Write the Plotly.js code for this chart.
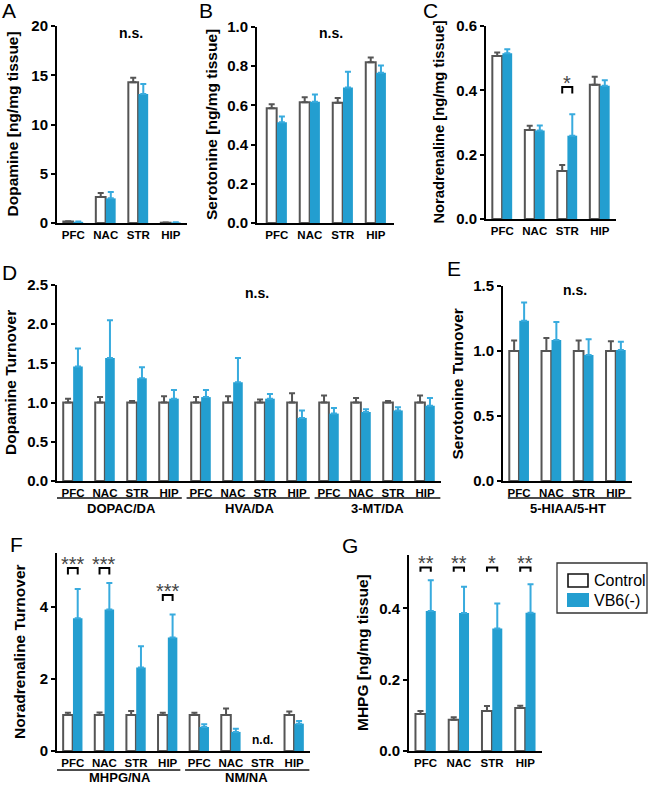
<!DOCTYPE html>
<html><head><meta charset="utf-8">
<script src="https://cdn.plot.ly/plotly-3.0.1.min.js"></script>
<style>html,body{margin:0;padding:0;background:#fff}#chart{width:652px;height:787px}</style>
</head><body><div id="chart"></div>
<script>
// ---------------- DATA ----------------
const regions = ['PFC','NAC','STR','HIP'];
// A: Dopamine [ng/mg tissue]
const daCtrl = [0.15, 2.65, 14.3, 0.03];
const daCtrlSem = [0.02, 0.40, 0.45, 0.01];
const daVb6 = [0.12, 2.50, 13.1, 0.06];
const daVb6Sem = [0.02, 0.65, 1.00, 0.01];
// B: Serotonine [ng/mg tissue]
const htCtrl = [0.586, 0.616, 0.613, 0.820];
const htCtrlSem = [0.020, 0.026, 0.025, 0.025];
const htVb6 = [0.514, 0.618, 0.691, 0.767];
const htVb6Sem = [0.029, 0.037, 0.081, 0.036];
// C: Noradrenaline [ng/mg tissue]
const naCtrl = [0.507, 0.277, 0.149, 0.417];
const naCtrlSem = [0.011, 0.013, 0.019, 0.025];
const naVb6 = [0.515, 0.275, 0.259, 0.414];
const naVb6Sem = [0.013, 0.016, 0.067, 0.017];
const naSig = ['', '', '*', ''];
// D: Dopamine turnover
const daTurnGroups = ['DOPAC/DA','HVA/DA','3-MT/DA'];
const daTurnCtrl = [1,1,1,1, 1,1,1,1, 1,1,1,1];
const daTurnCtrlSem = [0.05,0.07,0.02,0.08, 0.07,0.08,0.04,0.12, 0.09,0.06,0.02,0.09];
const daTurnVb6 = [1.46,1.57,1.31,1.05, 1.07,1.26,1.05,0.805, 0.86,0.88,0.90,0.96];
const daTurnVb6Sem = [0.23,0.48,0.14,0.11, 0.09,0.31,0.06,0.095, 0.07,0.035,0.04,0.10];
// E: Serotonine turnover
const htTurnGroups = ['5-HIAA/5-HT'];
const htTurnCtrl = [1,1,1,1];
const htTurnCtrlSem = [0.08,0.10,0.08,0.075];
const htTurnVb6 = [1.233,1.084,0.970,1.007];
const htTurnVb6Sem = [0.14,0.14,0.12,0.065];
// F: Noradrenaline turnover (NM/NA STR not detected)
const naTurnGroups = ['MHPG/NA','NM/NA'];
const naTurnCtrl = [1,1,1,1, 1,1,null,1];
const naTurnCtrlSem = [0.06,0.07,0.11,0.065, 0.065,0.18,null,0.10];
const naTurnVb6 = [3.69,3.93,2.32,3.15, 0.667,0.53,null,0.76];
const naTurnVb6Sem = [0.81,0.74,0.59,0.64, 0.075,0.09,null,0.07];
const naTurnSig = ['***','***','','***', '','','',''];
// G: MHPG [ng/mg tissue]
const mhpgCtrl = [0.104,0.088,0.112,0.121];
const mhpgCtrlSem = [0.008,0.007,0.014,0.006];
const mhpgVb6 = [0.393,0.387,0.344,0.388];
const mhpgVb6Sem = [0.086,0.074,0.070,0.080];
const mhpgSig = ['**','**','*','**'];
const seriesNames = ['Control','VB6(-)'];

// ---------------- STYLE ----------------
const W=652, H=787;
const FF='"Liberation Sans", Arial, Helvetica, sans-serif';
const BLUE='#239ed0', BLUE_ERR='#38abde', GRAY='#555555';
const fx=p=>p/W, fy=p=>1-p/H;
const OFF=0.155;

const traces=[], annotations=[], shapes=[];
const layout={
  width:W, height:H, margin:{l:0,r:0,t:0,b:0},
  paper_bgcolor:'#fff', plot_bgcolor:'rgba(0,0,0,0)',
  barmode:'group', bargap:0.38, bargroupgap:0.03,
  font:{family:FF, color:'#000'},
  showlegend:false,
  annotations, shapes, hovermode:false
};

function axName(n){return n===1?'':String(n);}

function panel(n, cfg){
  const s=axName(n);
  const labels=cfg.labels;
  layout['xaxis'+s]={domain:[fx(cfg.xd[0]),fx(cfg.xd[1])], range:cfg.xr, anchor:'y'+s,
    showline:true, linecolor:'#000', linewidth:2, ticks:'', showgrid:false, zeroline:false,
    tickmode:'array', tickvals:labels.map((_,i)=>i), ticktext:labels,
    tickfont:{family:FF, size:11.5, weight:'bold', color:'#000'}, fixedrange:true};
  layout['yaxis'+s]={domain:[fy(cfg.yd[1]),fy(cfg.yd[0])], range:cfg.yr, anchor:'x'+s,
    showline:true, linecolor:'#000', linewidth:2, ticks:'outside', ticklen:4, tickwidth:2, tickcolor:'#000',
    showgrid:false, zeroline:false, tick0:0, dtick:cfg.dtick, tickformat:cfg.fmt||'',
    tickfont:{family:FF, size:15, weight:'bold', color:'#000'}, fixedrange:true};
  const xs=labels.map((_,i)=>i);
  traces.push({type:'bar', name:seriesNames[0], x:xs, y:cfg.c, xaxis:'x'+s, yaxis:'y'+s,
    marker:{color:'#fff', line:{color:GRAY, width:2}},
    error_y:{type:'data', symmetric:false, array:cfg.cs, arrayminus:cfg.cs.map(()=>0), color:GRAY, thickness:2, width:3}});
  traces.push({type:'bar', name:seriesNames[1], x:xs, y:cfg.v, xaxis:'x'+s, yaxis:'y'+s,
    marker:{color:BLUE, line:{color:BLUE, width:0}},
    error_y:{type:'data', symmetric:false, array:cfg.vs, arrayminus:cfg.vs.map(()=>0), color:BLUE_ERR, thickness:2, width:3}});
  // y title
  annotations.push({xref:'paper', yref:'paper', x:fx(cfg.tx), y:(fy(cfg.yd[0])+fy(cfg.yd[1]))/2,
    text:cfg.title, textangle:-90, showarrow:false, xanchor:'center', yanchor:'middle',
    font:{family:FF, size:cfg.tsize||15.5, weight:'bold', color:'#000'}});
  // panel letter
  annotations.push({xref:'paper', yref:'paper', x:fx(cfg.letter[1]), y:fy(cfg.letter[2]),
    text:cfg.letter[0], showarrow:false, xanchor:'center', yanchor:'middle',
    font:{family:FF, size:21, color:'#000'}});
  if(cfg.ns){
    annotations.push({xref:'paper', yref:'paper', x:fx(cfg.ns[0]), y:fy(cfg.ns[1]), text:'n.s.',
      showarrow:false, xanchor:'center', yanchor:'middle', font:{family:FF, size:14, weight:'bold', color:'#000'}});
  }
  if(cfg.groups){
    const per=4;
    cfg.groups.forEach((g,gi)=>{
      const x0 = gi===0 ? (cfg.gStart!==undefined?cfg.gStart:cfg.xr[0]) : gi*per-0.45;
      const x1 = gi===cfg.groups.length-1 ? cfg.xr[1]-0.02 : gi*per+3.4;
      shapes.push({type:'line', xref:'x'+s, yref:'paper', x0:x0, x1:x1,
        y0:fy(cfg.gLine), y1:fy(cfg.gLine), line:{color:'#111', width:1.6}});
      const lab={xref:'x'+s, yref:'paper', x:gi*per+1.5, text:g, showarrow:false,
        xanchor:'center', font:{family:FF, size:13, weight:'bold', color:'#000'}};
      if(cfg.gBottom){ lab.y=0; lab.yanchor='bottom'; } else { lab.y=fy(cfg.gLabel); lab.yanchor='middle'; }
      annotations.push(lab);
    });
  }
  if(cfg.sig){
    cfg.sig.forEach((t,i)=>{
      if(!t) return;
      const yt=cfg.bTop[i], yl=cfg.bLow[i];
      shapes.push({type:'path', xref:'x'+s, yref:'y'+s,
        path:`M ${i-OFF},${yl} L ${i-OFF},${yt} L ${i+OFF},${yt} L ${i+OFF},${yl}`,
        line:{color:'#000', width:2}});
      annotations.push({xref:'x'+s, yref:'y'+s, x:i, y:yt, text:t, showarrow:false,
        xanchor:'center', yanchor:'bottom', yshift:-9,
        font:{family:FF, size:20, color:'#444'}});
    });
  }
}

panel(1,{labels:regions, xd:[57,187], yd:[26,223], xr:[-0.5,3.5], yr:[0,20], dtick:5,
  c:daCtrl, cs:daCtrlSem, v:daVb6, vs:daVb6Sem, title:'Dopamine [ng/mg tissue]', tx:12,
  letter:['A',9,11], ns:[131,33]});
panel(2,{labels:regions, xd:[257,394], yd:[27,223], xr:[-0.6,3.55], yr:[0,1.0], dtick:0.2, fmt:'.1f',
  c:htCtrl, cs:htCtrlSem, v:htVb6, vs:htVb6Sem, title:'Serotonine [ng/mg tissue]', tx:212,
  letter:['B',206,11], ns:[331,33]});
panel(3,{labels:regions, xd:[486,616], yd:[26,219], xr:[-0.5,3.5], yr:[0,0.6], dtick:0.2, fmt:'.1f',
  c:naCtrl, cs:naCtrlSem, v:naVb6, vs:naVb6Sem, title:'Noradrenaline [ng/mg tissue]', tx:439, tsize:14.7,
  letter:['C',430,11], sig:naSig, bTop:[0,0,0.41,0], bLow:[0,0,0.39,0]});
panel(4,{labels:daTurnGroups.flatMap(()=>regions), xd:[57,441], yd:[285,481], xr:[-0.5,11.5], yr:[0,2.5], dtick:0.5, fmt:'.1f',
  c:daTurnCtrl, cs:daTurnCtrlSem, v:daTurnVb6, vs:daTurnVb6Sem, title:'Dopamine Turnover', tx:10,
  letter:['D',9,272], ns:[257,293], groups:daTurnGroups, gLine:498, gLabel:508});
panel(5,{labels:regions, xd:[503,632], yd:[286,481], xr:[-0.5,3.5], yr:[0,1.5], dtick:0.5, fmt:'.1f',
  c:htTurnCtrl, cs:htTurnCtrlSem, v:htTurnVb6, vs:htTurnVb6Sem, title:'Serotonine Turnover', tx:457,
  letter:['E',454,269], ns:[575,290], groups:htTurnGroups, gLine:498, gLabel:508, gStart:-0.35});
panel(6,{labels:naTurnGroups.flatMap(()=>regions), xd:[57,310], yd:[553,751], xr:[-0.5,7.5], yr:[0,5.5], dtick:2,
  c:naTurnCtrl, cs:naTurnCtrlSem, v:naTurnVb6, vs:naTurnVb6Sem, title:'Noradrenaline Turnover', tx:19,
  letter:['F',16,544], groups:naTurnGroups, gLine:770, gBottom:true,
  sig:naTurnSig, bTop:[5.08,5.08,0,4.33,0,0,0,0], bLow:[4.9,4.9,0,4.17,0,0,0,0]});
panel(7,{labels:regions, xd:[409,542], yd:[555,751], xr:[-0.5,3.5], yr:[0,0.55], dtick:0.2, fmt:'.1f',
  c:mhpgCtrl, cs:mhpgCtrlSem, v:mhpgVb6, vs:mhpgVb6Sem, title:'MHPG [ng/mg tissue]', tx:362,
  letter:['G',350,545],
  sig:mhpgSig, bTop:[0.515,0.515,0.515,0.515], bLow:[0.503,0.503,0.503,0.503]});

// n.d. marker for missing NM/NA STR
naTurnCtrl.forEach((v,i)=>{
  if(v===null) annotations.push({xref:'x6', yref:'y6', x:i, y:0, yshift:2, text:'n.d.', showarrow:false,
    xanchor:'center', yanchor:'bottom', font:{family:FF, size:12, weight:'bold', color:'#000'}});
});

// legend (box, swatches, labels)
shapes.push({type:'rect', xref:'paper', yref:'paper', x0:fx(557), x1:fx(647), y0:fy(613), y1:fy(563),
  line:{color:'#333', width:1.3}, fillcolor:'#fff'});
shapes.push({type:'rect', xref:'paper', yref:'paper', x0:fx(568), x1:fx(588), y0:fy(587), y1:fy(574),
  line:{color:'#111', width:1.6}, fillcolor:'#fff'});
shapes.push({type:'rect', xref:'paper', yref:'paper', x0:fx(567), x1:fx(589), y0:fy(607), y1:fy(593),
  line:{width:0}, fillcolor:BLUE});
seriesNames.forEach((nm,i)=>{
  annotations.push({xref:'paper', yref:'paper', x:fx(592), y:fy(580+i*20), text:nm, showarrow:false,
    xanchor:'left', yanchor:'middle', font:{family:FF, size:16, color:'#000'}});
});

Plotly.newPlot('chart', traces, layout, {staticPlot:true, displayModeBar:false});
</script>
</body></html>
